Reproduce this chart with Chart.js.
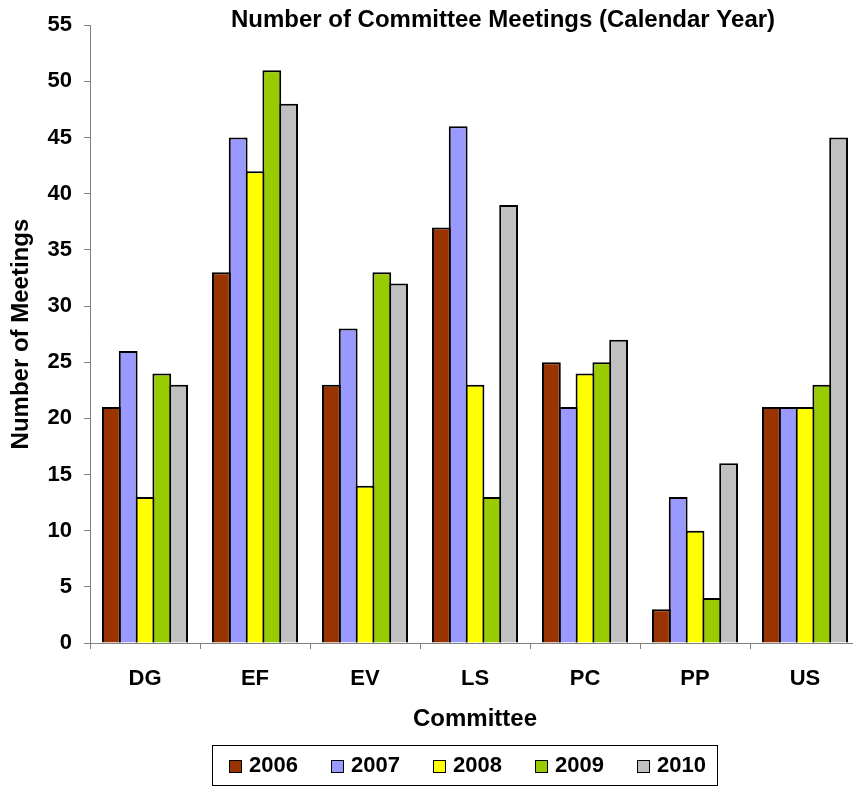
<!DOCTYPE html>
<html><head><meta charset="utf-8">
<script src="https://cdn.jsdelivr.net/npm/chart.js@4/dist/chart.umd.min.js"></script>
<style>html,body{margin:0;padding:0;overflow:hidden;background:#fff}#wrap{width:870px;height:786px}</style>
</head><body><div id="wrap"><canvas id="c" width="870" height="786"></canvas></div>
<script>
const titleText = 'Number of Committee Meetings (Calendar Year)';
const xTitle = 'Committee';
const yTitle = 'Number of Meetings';
const categories = ['DG','EF','EV','LS','PC','PP','US'];
const years = ['2006','2007','2008','2009','2010'];
const v2006 = [21,33,23,37,25,3,21];
const v2007 = [26,45,28,46,21,13,21];
const v2008 = [13,42,14,23,24,10,21];
const v2009 = [24,51,33,13,25,4,23];
const v2010 = [23,48,32,39,27,16,45];
const colors = ['#993300','#9999FF','#FFFF00','#99CC00','#C0C0C0'];
const seriesValues = [v2006,v2007,v2008,v2009,v2010];
const yMin = 0, yMax = 55, yStep = 5;

const FONT = '"Liberation Sans", Arial, sans-serif';

const deco = {
  id: 'deco',
  afterDraw(chart) {
    const ctx = chart.ctx;
    ctx.save();
    ctx.font = 'bold 24px ' + FONT;
    ctx.fillStyle = '#000';
    ctx.textAlign = 'center';
    ctx.textBaseline = 'middle';
    ctx.fillText(titleText, 503, 20);
    // legend box
    ctx.font = 'bold 22px ' + FONT;
    const bx = 212, by = 745, bw = 505, bh = 40;
    ctx.strokeStyle = '#000';
    ctx.lineWidth = 1;
    ctx.strokeRect(bx + 0.5, by + 0.5, bw, bh);
    chart.data.datasets.forEach((ds, i) => {
      const x = 229 + i * 102;
      ctx.fillStyle = ds.backgroundColor;
      ctx.fillRect(x, 760, 13, 13);
      ctx.strokeStyle = '#000';
      ctx.strokeRect(x + 0.5, 760.5, 12, 12);
      ctx.fillStyle = '#000';
      ctx.textAlign = 'left';
      ctx.fillText(ds.label, x + 20, 766);
    });
    ctx.restore();
  }
};

new Chart(document.getElementById('c'), {
  type: 'bar',
  data: {
    labels: categories,
    datasets: years.map((y, i) => ({
      label: y,
      data: seriesValues[i],
      backgroundColor: colors[i],
      borderColor: '#000',
      borderWidth: 2,
      categoryPercentage: 0.764,
      barPercentage: 1.12
    }))
  },
  options: {
    responsive: false,
    animation: false,
    devicePixelRatio: 1,
    layout: { padding: { top: 25, right: 10, bottom: 50, left: 0 } },
    plugins: { legend: { display: false }, title: { display: false }, tooltip: { enabled: false } },
    scales: {
      x: {
        afterFit(s) { s.height = 93; },
        grid: { drawOnChartArea: false, drawTicks: true, tickLength: 6, color: '#808080', offset: true },
        border: { color: '#808080', width: 1 },
        ticks: { color: '#000', font: { family: FONT, size: 22, weight: 'bold' }, padding: 17 },
        title: { display: true, text: xTitle, color: '#000', font: { family: FONT, size: 24, weight: 'bold' }, padding: { top: 0, bottom: 2 } }
      },
      y: {
        min: yMin, max: yMax,
        afterFit(s) { s.width = 90; },
        grid: { drawOnChartArea: false, drawTicks: true, tickLength: 6, color: '#808080' },
        border: { color: '#808080', width: 1 },
        ticks: { stepSize: yStep, color: '#000', font: { family: FONT, size: 22, weight: 'bold' }, padding: 12 },
        title: { display: true, text: yTitle, color: '#000', font: { family: FONT, size: 24, weight: 'bold' }, padding: { top: 7, bottom: 0 } }
      }
    }
  },
  plugins: [deco]
});
</script>
</body></html>
